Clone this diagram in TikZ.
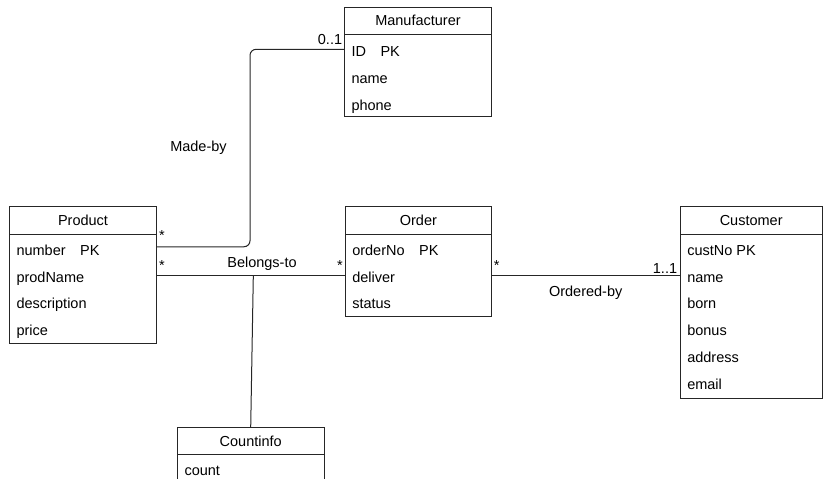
\documentclass[tikz,border=0pt]{standalone}
\usepackage{fontspec}
\setmainfont{Liberation Sans}
\usetikzlibrary{positioning}

\begin{document}
\begin{tikzpicture}[x=1pt,y=-1pt,line width=1pt,draw=black!85,
    every node/.style={font=\fontsize{14.5}{17}\selectfont},
    head/.style={draw,inner sep=0,outer sep=0,minimum height=27.3pt,text height=10.5pt,text depth=0pt},
    body/.style={draw,inner sep=0,outer sep=0},
    attr/.style={anchor=base west,inner sep=0},
    lbl/.style={anchor=base,inner sep=0}]
  \useasboundingbox (0,0) rectangle (823,479);
  % entities
  \node[head,minimum width=147.4pt] (mfr) at (418,20.7) {Manufacturer};
  \node[body,minimum width=147.4pt,minimum height=82.4pt,below=0pt of mfr] (mfr-b) {};
  \foreach \t [count=\i] in {ID\quad PK,name,phone}
    \node[attr] (mfr-\i) at ([shift={(6.7,{22.4+26.8*(\i-1)})}]mfr-b.north west) {\t};
  \node[head,minimum width=147.4pt] (prod) at (83,220.4) {Product};
  \node[body,minimum width=147.4pt,minimum height=109.3pt,below=0pt of prod] (prod-b) {};
  \foreach \t [count=\i] in {number\quad PK,prodName,description,price}
    \node[attr] (prod-\i) at ([shift={(6.7,{21.2+26.8*(\i-1)})}]prod-b.north west) {\t};
  \node[head,minimum width=146.7pt] (ord) at (418.4,220.4) {Order};
  \node[body,minimum width=146.7pt,minimum height=82pt,below=0pt of ord] (ord-b) {};
  \foreach \t [count=\i] in {orderNo\quad PK,deliver,status}
    \node[attr] (ord-\i) at ([shift={(6.7,{21.2+26.8*(\i-1)})}]ord-b.north west) {\t};
  \node[head,minimum width=142.3pt] (cst) at (751.2,220.4) {Customer};
  \node[body,minimum width=142.3pt,minimum height=164.3pt,below=0pt of cst] (cst-b) {};
  \foreach \t [count=\i] in {custNo PK,name,born,bonus,address,email}
    \node[attr] (cst-\i) at ([shift={(6.7,{21.2+26.8*(\i-1)})}]cst-b.north west) {\t};
  \node[head,minimum width=146.7pt] (cnt) at (250.7,441) {Countinfo};
  \node[body,minimum width=146.7pt,minimum height=30pt,below=0pt of cnt] (cnt-b) {};
  \node[attr] (cnt-1) at ([shift={(6.7,21.2)}]cnt-b.north west) {count};
  % relations
  \draw[rounded corners=6pt] ([yshift=-12.7pt]prod-b.north east) -- ++(93.3,0)
    |- ([yshift=-15pt]mfr-b.north west);
  \draw ([yshift=-41pt]prod-b.north east) -- coordinate[pos=0.513] (bt)
    ([yshift=-41pt]ord-b.north west);
  \draw (bt) -- (cnt.north);
  \draw ([yshift=-41pt]ord-b.north east) -- ([yshift=-41pt]cst-b.north west);
  % labels
  \node[lbl] (madeby) at (198.5,151) {Made-by};
  \node[lbl] (belongs) at (262,267.5) {Belongs-to};
  \node[lbl] (orderedby) at (585.7,296) {Ordered-by};
  \node[lbl] (m-mfr) at (330,45) {0..1};
  \node[lbl] (m-cst) at (665,273.5) {1..1};
  \node[lbl] (m-prod1) at (162,240) {*};
  \node[lbl] (m-prod2) at (162,270) {*};
  \node[lbl] (m-ord1) at (340,270) {*};
  \node[lbl] (m-ord2) at (496.7,270) {*};
\end{tikzpicture}
\end{document}
